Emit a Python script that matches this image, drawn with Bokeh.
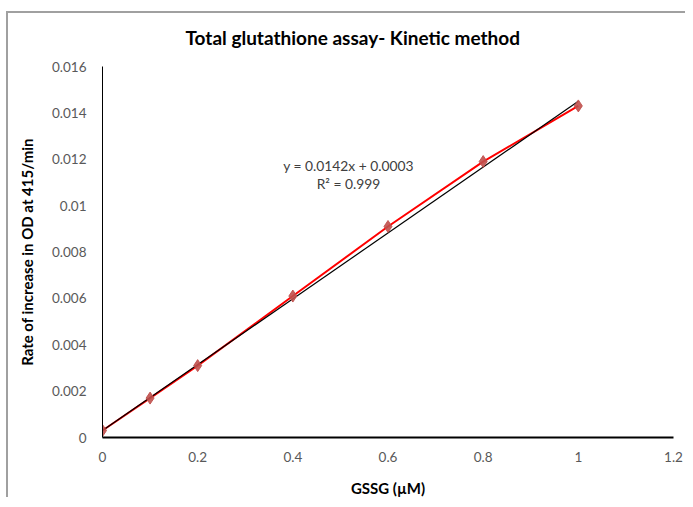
from bokeh.plotting import figure
from bokeh.models import FixedTicker, Label, Range1d, Title
from bokeh.embed import file_html
from bokeh.resources import INLINE

# Data
gssg_um = [0, 0.1, 0.2, 0.4, 0.6, 0.8, 1.0]
rate = [0.0003, 0.0017, 0.0031, 0.0061, 0.0091, 0.0119, 0.0143]
fit_slope = 0.0142
fit_intercept = 0.0003
fit_x = [0, 1.0]
x_ticks = [0, 0.2, 0.4, 0.6, 0.8, 1.0, 1.2]
x_tick_labels = ["0", "0.2", "0.4", "0.6", "0.8", "1", "1.2"]
y_ticks = [0, 0.002, 0.004, 0.006, 0.008, 0.010, 0.012, 0.014, 0.016]
y_tick_labels = ["0", "0.002", "0.004", "0.006", "0.008", "0.01", "0.012", "0.014", "0.016"]
title_text = "Total glutathione assay- Kinetic method"
x_label = "GSSG (µM)"
y_label = "Rate of increase in OD at 415/min"
eq_text = "y = 0.0142x + 0.0003"
r2_text = "R² = 0.999"

FONT = "Lato"

p = figure(width=679, height=486, output_backend="svg", toolbar_location=None,
           x_range=Range1d(0, 1.2), y_range=Range1d(0, 0.016),
           min_border_left=94, min_border_right=14, min_border_top=53, min_border_bottom=60)
p.styles = {"border-left": "2px solid #a0a0a0", "border-top": "2px solid #a0a0a0",
            "margin-left": "6px", "margin-top": "11px"}

# spacer between plot area and title, then the title itself
p.add_layout(Title(text=" ", text_font_size="4px", standoff=2), "above")
p.add_layout(Title(text=title_text, text_font=FONT, text_font_size="19px",
                   text_font_style="bold", text_color="#000000",
                   align="left", offset=83, standoff=17), "above")

p.grid.visible = False
p.outline_line_color = None

for ax in (p.xaxis, p.yaxis):
    ax.major_tick_line_color = None
    ax.minor_tick_line_color = None
    ax.major_label_text_font = FONT
    ax.major_label_text_font_size = "13.5px"
    ax.major_label_text_color = "#595959"
    ax.axis_label_text_font = FONT
    ax.axis_label_text_font_size = "15px"
    ax.axis_label_text_font_style = "bold"
    ax.axis_label_text_color = "#000000"
    ax.axis_line_color = "#000000"

p.xaxis.ticker = FixedTicker(ticks=x_ticks)
p.xaxis.major_label_overrides = {t: l for t, l in zip(x_ticks, x_tick_labels)}
p.yaxis.ticker = FixedTicker(ticks=y_ticks)
p.yaxis.major_label_overrides = {t: l for t, l in zip(y_ticks, y_tick_labels)}
p.xaxis.axis_line_width = 2
p.yaxis.axis_line_width = 1
p.xaxis.major_label_standoff = 8
p.yaxis.major_label_standoff = 10
p.xaxis.axis_label = x_label
p.yaxis.axis_label = y_label
p.xaxis.axis_label_standoff = 14
p.yaxis.axis_label_standoff = 13

# series line
p.line(gssg_um, rate, line_color="#FF0000", line_width=2)
# trendline
fit_y = [fit_slope * x + fit_intercept for x in fit_x]
p.line(fit_x, fit_y, line_color="#000000", line_width=1.2)
# markers
p.scatter(gssg_um, rate, marker="diamond", size=12, fill_color="#C0504D",
          line_color="#C0504D", alpha=0.9)

p.add_layout(Label(x=0.517, y=0.01172, text=eq_text, text_align="center",
                   text_baseline="middle", text_font=FONT, text_font_size="13.8px",
                   text_color="#404040"))
p.add_layout(Label(x=0.517, y=0.01094, text=r2_text, text_align="center",
                   text_baseline="middle", text_font=FONT, text_font_size="13.8px",
                   text_color="#404040"))

open("out.html", "w").write(file_html(p, INLINE))
